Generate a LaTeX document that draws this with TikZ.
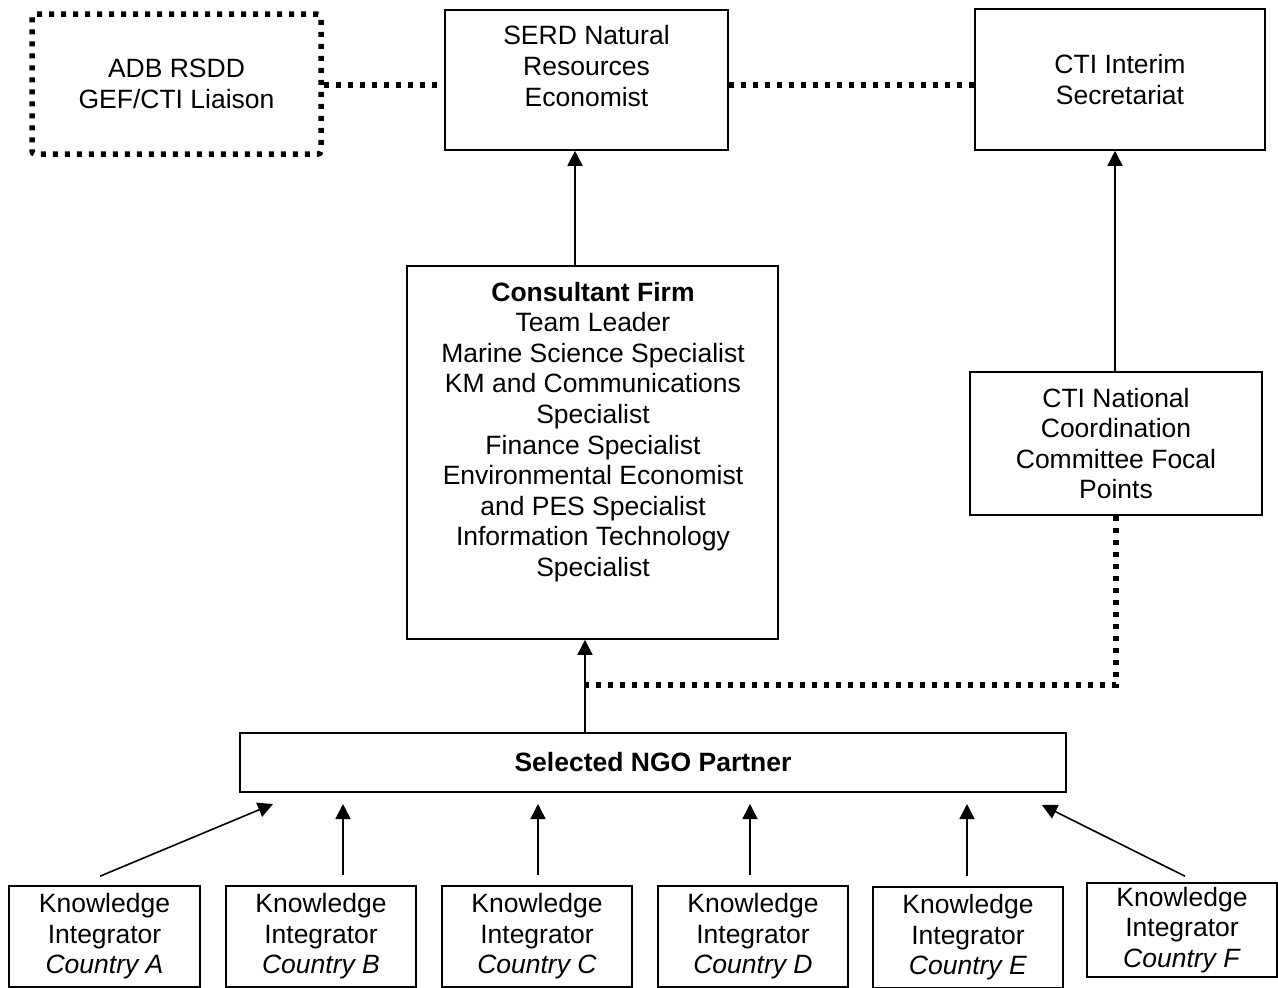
\documentclass[tikz,border=0pt]{standalone}
\usepackage{fontspec}
\setmainfont{Liberation Sans}
\usetikzlibrary{arrows.meta}
\begin{document}
\begin{tikzpicture}[x=1pt,y=-1pt,
  box/.style={draw,line width=1.6pt,inner sep=0pt,align=center,font=\fontsize{26.5}{30.6}\selectfont},
  dbox/.style={draw,line width=5.5pt,dash pattern=on 5pt off 7pt,rounded corners=3pt,inner sep=0pt,align=center,font=\fontsize{26.5}{30.6}\selectfont},
  txt/.style={inner sep=0pt,align=center,font=\fontsize{26.5}{30.6}\selectfont},
  arr/.style={line width=1.6pt,-{Triangle[length=15pt,width=15pt]}},
  dotline/.style={line width=5.5pt,dash pattern=on 5pt off 7pt}]
\useasboundingbox (0,0) rectangle (1278,988);
% top row
\node[dbox,minimum width=289pt,minimum height=140pt] (adb) at (176.5,84) {ADB RSDD\\GEF/CTI Liaison};
\node[box,minimum width=283pt,minimum height=140pt] (serd) at (586.5,80) {};
\node[txt] (serdt) at (586.5,66) {SERD Natural\\Resources\\Economist};
\node[box,minimum width=290pt,minimum height=141pt] (cti) at (1120,79.5) {CTI Interim\\Secretariat};
% middle
\node[box,minimum width=371pt,minimum height=373pt] (cons) at (592.5,452.5) {};
\node[txt] (const) at (593,432) {\textbf{Consultant Firm}\\Team Leader\\Marine Science Specialist\\KM and Communications\\Specialist\\Finance Specialist\\Environmental Economist\\and PES Specialist\\Information Technology\\Specialist};
\node[box,minimum width=292pt,minimum height=143pt] (nat) at (1116,443.5) {CTI National\\Coordination\\Committee Focal\\Points};
\node[box,minimum width=826pt,minimum height=59pt] (ngo) at (653,762.5) {\textbf{Selected NGO Partner}};
% bottom row
\node[box,minimum width=191pt,minimum height=101pt] (kA) at (104.5,936.5) {Knowledge\\Integrator\\\textit{Country A}};
\node[box,minimum width=190pt,minimum height=101pt] (kB) at (321,936.5) {Knowledge\\Integrator\\\textit{Country B}};
\node[box,minimum width=190pt,minimum height=101pt] (kC) at (537,936.5) {Knowledge\\Integrator\\\textit{Country C}};
\node[box,minimum width=190pt,minimum height=101pt] (kD) at (753,936.5) {Knowledge\\Integrator\\\textit{Country D}};
\node[box,minimum width=190pt,minimum height=101pt] (kE) at (968,937.5) {Knowledge\\Integrator\\\textit{Country E}};
\node[box,minimum width=190pt,minimum height=94pt] (kF) at (1182,930) {Knowledge\\Integrator\\\textit{Country F}};
% dotted links
\draw[dotline] (adb.east |- 0,85) -- (serd.west |- 0,85);
\draw[dotline] (serd.east |- 0,85) -- (cti.west |- 0,85);
\coordinate (j) at (585,685);
\draw[dotline] (nat.south) -- (nat.south |- j) -- (j);
% arrows
\draw[arr] (cons.north -| 575,0) -- (serd.south -| 575,0);
\draw[arr] (nat.north -| 1115,0) -- (cti.south -| 1115,0);
\draw[arr] (ngo.north -| j) -- (cons.south -| j);
\coordinate (hA) at (273,804);
\coordinate (hB) at (343,804);
\coordinate (hC) at (538,804);
\coordinate (hD) at (750,804);
\coordinate (hE) at (967,804);
\coordinate (hF) at (1042,805);
\draw[arr] ([xshift=-4.5pt,yshift=9pt]kA.north) -- (hA);
\draw[arr] ([yshift=10pt]kB.north -| hB) -- (hB);
\draw[arr] ([yshift=10pt]kC.north -| hC) -- (hC);
\draw[arr] ([yshift=10pt]kD.north -| hD) -- (hD);
\draw[arr] ([yshift=10pt]kE.north -| hE) -- (hE);
\draw[arr] ([xshift=3pt,yshift=6pt]kF.north) -- (hF);
\end{tikzpicture}
\end{document}
